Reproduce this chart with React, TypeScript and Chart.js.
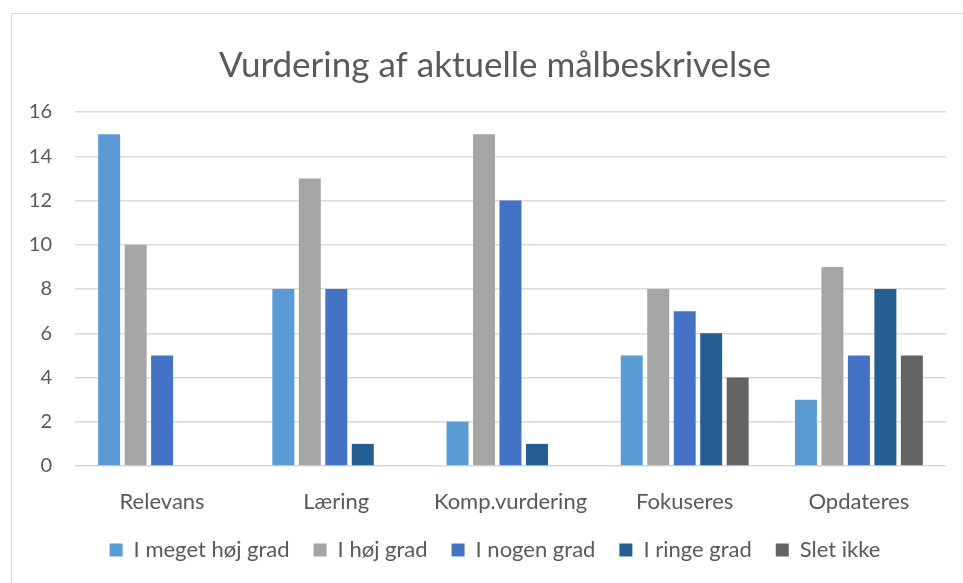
import React, { useEffect, useRef } from "react";
import { Chart, registerables } from "chart.js";

Chart.register(...registerables);

const TITLE = "Vurdering af aktuelle målbeskrivelse";
const categories = ["Relevans", "Læring", "Komp.vurdering", "Fokuseres", "Opdateres"];
const seriesNames = ["I meget høj grad", "I høj grad", "I nogen grad", "I ringe grad", "Slet ikke"];
const megetHoejGrad = [15, 8, 2, 5, 3];
const hoejGrad = [10, 13, 15, 8, 9];
const nogenGrad = [5, 8, 12, 7, 5];
const ringeGrad = [0, 1, 1, 6, 8];
const sletIkke = [0, 0, 0, 4, 5];
const seriesColors = ["#5B9BD5", "#A5A5A5", "#4472C4", "#255E91", "#636363"];
const yMin = 0;
const yMax = 16;
const yStep = 2;

const FONT = "Lato, 'Open Sans', sans-serif";
const TEXT = "#595959";

export default function App() {
  const ref = useRef<HTMLCanvasElement | null>(null);

  useEffect(() => {
    if (!ref.current) return;
    const seriesData = [megetHoejGrad, hoejGrad, nogenGrad, ringeGrad, sletIkke];
    const chart = new Chart(ref.current, {
      type: "bar",
      data: {
        labels: categories,
        datasets: seriesNames.map((name, i) => ({
          label: name,
          data: seriesData[i],
          backgroundColor: seriesColors[i],
          borderWidth: 0,
          categoryPercentage: 0.76,
          barPercentage: 0.83,
          yAxisID: "y",
        })),
      },
      options: {
        responsive: false,
        animation: false,
        layout: { padding: { left: 0, right: 0, top: 0, bottom: 12 } },
        plugins: {
          title: {
            display: true,
            text: TITLE,
            color: TEXT,
            font: { family: FONT, size: 35, weight: "normal" },
            padding: { top: 45, bottom: 25 },
          },
          legend: {
            position: "bottom",
            labels: {
              color: TEXT,
              font: { family: FONT, size: 22 },
              boxWidth: 13,
              boxHeight: 13,
              padding: 24,
            },
          },
          tooltip: { enabled: false },
        },
        scales: {
          x: {
            grid: { display: false, drawTicks: false },
            border: { display: false },
            ticks: { color: TEXT, font: { family: FONT, size: 22, lineHeight: 1.2 }, padding: 23 },
            afterFit: (s: any) => {
              s.height = 49;
            },
          },
          y: {
            position: "left",
            min: yMin,
            max: yMax,
            grid: { color: "#D9D9D9", lineWidth: 1.4, drawTicks: false },
            border: { display: false },
            ticks: { stepSize: yStep, color: TEXT, font: { family: FONT, size: 20 }, padding: 23 },
            afterFit: (s: any) => {
              s.width = 75;
            },
          },
          yRight: {
            position: "right",
            display: true,
            grid: { display: false, drawTicks: false },
            border: { display: false },
            ticks: { display: false },
            afterFit: (s: any) => {
              s.width = 44;
            },
          },
        },
      },
    });
    return () => chart.destroy();
  }, []);

  return (
    <div style={{ position: "fixed", left: 0, top: 0, width: 963, height: 583, overflow: "hidden", background: "#fff" }}>
      <div
        style={{
          position: "absolute",
          left: 11,
          top: 13,
          width: 1000,
          height: 1000,
          border: "1px solid #D9D9D9",
          boxSizing: "border-box",
        }}
      />
      <canvas ref={ref} width={990} height={583} style={{ position: "absolute", left: 0, top: 0 }} />
    </div>
  );
}
